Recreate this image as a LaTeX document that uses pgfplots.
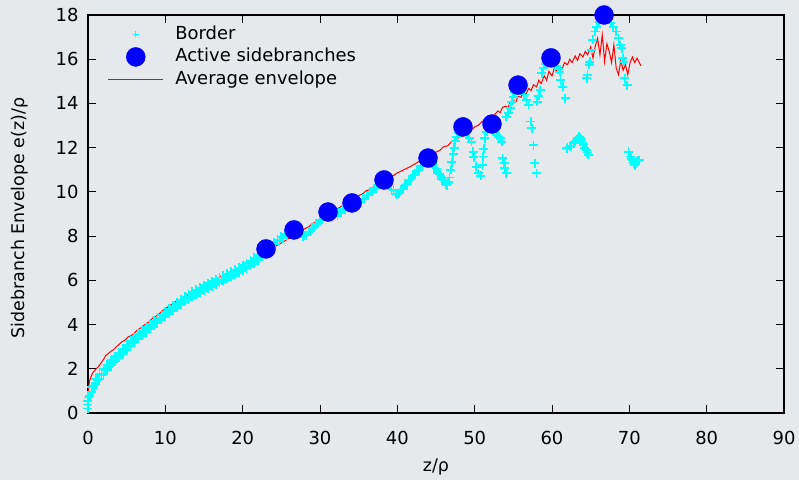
\documentclass[border=0pt]{standalone}
\usepackage{pgfplots}
\pgfplotsset{compat=1.18}
\usepackage{fontspec}
\setmainfont{DejaVu Sans}
\definecolor{bgc}{RGB}{229,233,236}
\definecolor{cy}{RGB}{0,255,255}
\definecolor{bl}{RGB}{0,0,255}
\definecolor{rd}{RGB}{255,0,0}
\begin{document}
\begin{tikzpicture}
\fill[bgc] (-88bp,-67bp) rectangle (711bp,413bp);
\begin{axis}[
  scale only axis, width=696bp, height=398bp,
  xmin=0, xmax=90, ymin=0, ymax=18,
  xtick={0,10,...,90}, ytick={0,2,...,18},
  tick align=inside, major tick length=8bp,
  axis line style={black, line width=1.1bp},
  tick style={black, line width=0.9bp},
  clip=false,
  /pgf/number format/assume math mode=true,
  tick label style={font=\fontsize{18}{21}\selectfont},
  xticklabel style={yshift=-15bp},
  yticklabel style={xshift=-6bp},
  xlabel={z/ρ}, ylabel={Sidebranch Envelope e(z)/ρ},
  label style={font=\fontsize{17.5}{21}\selectfont},
  xlabel style={at={(axis description cs:0.5,-0.1357)}, anchor=center},
  ylabel style={at={(axis description cs:-0.0977,0.49)}, anchor=center, rotate=0},
  legend style={draw=none, fill=none, at={(axis description cs:0.028,0.98)}, anchor=north west,
    font=\fontsize{18}{21}\selectfont, row sep=0bp, column sep=9bp, inner sep=0bp,
    nodes={inner sep=2.5bp, text height=13.5bp, text depth=4bp}},
  legend cell align=left,
  legend image code/.code={\draw[mark repeat=2,mark phase=2,#1] plot coordinates {(0bp,0bp) (27.5bp,0bp) (55bp,0bp)};},
]
\addplot[only marks, mark=+, color=cy, mark size=4.5bp, line width=1.8bp,
  legend image post style={mark size=3bp, line width=0.9bp}] table {
x y
0 0.2
0 0.55
0.05 0.7
0 0.38
0.25 0.77
0.5 1.18
0.75 1.22
1.0 1.53
1.25 1.50
1.5 1.78
1.75 1.72
2.0 1.98
2.25 1.92
2.5 2.18
2.75 2.12
3.0 2.38
3.25 2.31
3.5 2.56
3.75 2.48
4.0 2.73
4.25 2.66
4.5 2.91
4.75 2.83
5.0 3.08
5.25 3.01
5.5 3.26
5.75 3.18
6.0 3.43
6.25 3.35
6.5 3.58
6.75 3.50
7.0 3.73
7.25 3.65
7.5 3.88
7.75 3.80
8.0 4.03
8.25 3.94
8.5 4.17
8.75 4.07
9.0 4.30
9.25 4.21
9.5 4.44
9.75 4.35
10.0 4.58
10.25 4.49
10.5 4.72
10.75 4.63
11.0 4.86
11.25 4.77
11.5 5.00
11.75 4.90
12.0 5.13
12.25 5.03
12.5 5.26
12.75 5.16
13.0 5.38
13.25 5.27
13.5 5.48
13.75 5.37
14.0 5.58
14.25 5.47
14.5 5.68
14.75 5.57
15.0 5.78
15.25 5.67
15.5 5.87
15.75 5.76
16.0 5.96
16.25 5.84
16.5 6.05
16.75 5.93
17.0 6.13
17.25 6.01
17.5 6.22
17.75 6.10
18.0 6.30
18.25 6.19
18.5 6.39
18.75 6.28
19.0 6.48
19.25 6.37
19.5 6.58
19.75 6.47
20.0 6.68
20.25 6.57
20.5 6.78
20.75 6.67
21.0 6.88
21.25 6.78
21.5 7.01
21.75 6.91
22.0 7.13
22.25 7.06
22.5 7.31
22.75 7.23
23.0 7.48
0.5 0.95
1.0 1.30
1.5 1.55
2.0 1.75
2.5 1.95
3.0 2.15
3.5 2.33
4.0 2.50
4.5 2.68
5.0 2.85
5.5 3.03
6.0 3.20
6.5 3.35
7.0 3.50
7.5 3.65
8.0 3.80
8.5 3.94
9.0 4.07
9.5 4.21
10.0 4.35
10.5 4.49
11.0 4.63
11.5 4.77
12.0 4.90
12.5 5.03
13.0 5.15
13.5 5.25
14.0 5.35
14.5 5.45
15.0 5.55
15.5 5.64
16.0 5.73
16.5 5.82
17.0 5.90
17.5 5.99
18.0 6.07
18.5 6.16
19.0 6.25
19.5 6.35
20.0 6.45
20.5 6.55
21.0 6.65
21.5 6.78
22.0 6.90
22.5 7.08
23.25 7.42
23.5 7.60
23.75 7.54
24.0 7.72
24.25 7.66
24.5 7.84
24.75 7.78
25.0 7.96
25.25 7.90
25.5 8.08
25.75 8.02
26.0 8.20
26.25 8.14
26.5 8.30
26.75 8.24
27.0 8.24
27.25 8.10
27.5 8.12
27.75 7.99
28.0 8.04
28.25 8.03
28.5 8.20
28.75 8.21
29.0 8.38
29.25 8.39
29.5 8.56
29.75 8.57
30.0 8.74
30.25 8.75
30.5 8.92
30.75 8.93
31.0 9.10
31.25 9.01
31.5 9.06
31.75 8.95
32.0 9.01
32.25 8.92
32.5 9.08
32.75 9.07
33.0 9.22
33.25 9.21
33.5 9.36
33.75 9.35
34.0 9.50
34.25 9.46
34.5 9.54
34.75 9.47
35.0 9.57
35.25 9.52
35.5 9.68
35.75 9.68
36.0 9.84
36.25 9.84
36.5 10.00
36.75 10.00
37.0 10.16
37.25 10.16
37.5 10.32
37.75 10.32
38.0 10.48
38.25 10.48
38.5 10.49
38.75 10.31
39.0 10.29
39.25 10.11
39.5 10.09
39.75 9.91
40.0 9.90
40.25 9.93
40.5 10.11
40.75 10.14
41.0 10.32
41.25 10.35
41.5 10.53
41.75 10.56
42.0 10.74
42.25 10.77
42.5 10.95
42.75 10.98
43.0 11.16
43.25 11.19
43.5 11.37
43.75 11.40
44.0 11.56
44.25 11.36
44.5 11.31
44.75 11.10
45.0 11.06
45.25 10.85
45.5 10.80
45.75 10.59
46.0 10.54
46.25 10.34
46.4 10.30
46.6 10.45
46.75 10.65
46.9 11.00
47.05 11.35
47.2 11.70
47.35 12.00
47.5 12.30
47.7 12.50
47.9 12.65
48.1 12.78
48.3 12.88
48.5 12.94
48.75 12.85
49.0 12.70
49.3 12.45
49.6 12.27
49.83 11.82
49.9 11.56
50.2 11.14
50.5 10.84
50.8 10.72
51.0 11.20
51.1 11.60
51.2 11.95
51.3 12.42
51.55 12.72
51.8 12.90
52.0 13.00
52.25 13.07
52.5 12.95
52.85 12.57
53.1 12.50
53.3 12.42
53.5 12.27
53.6 11.52
53.8 11.29
53.9 11.07
54.1 10.84
54.1 13.40
54.35 13.55
54.6 13.78
54.8 14.08
55.0 14.30
55.2 14.50
55.4 14.70
55.6 14.83
55.85 14.75
56.1 14.60
56.4 14.40
56.7 14.16
56.95 13.93
57.25 13.18
57.4 12.88
57.6 12.12
57.8 11.29
58.0 10.84
58.1 14.08
58.3 14.35
58.45 14.60
58.7 15.36
58.9 15.60
59.1 15.80
59.4 15.95
59.65 16.03
59.87 16.06
60.1 16.00
60.35 15.90
60.6 15.70
60.8 15.55
61.0 15.44
61.1 15.06
61.4 14.76
61.7 14.23
61.9 11.97
62.0 12.00
62.3 12.05
62.5 12.10
62.8 12.20
63.0 12.28
63.2 12.35
63.35 12.42
63.5 12.50
63.65 12.45
63.8 12.35
63.95 12.20
64.05 12.12
64.2 12.00
64.4 11.90
64.55 11.78
64.7 11.67
64.5 15.14
64.6 15.29
64.8 15.74
64.9 15.89
65.1 16.40
65.3 16.87
65.6 17.25
65.8 17.47
66.1 17.70
66.4 17.90
66.7 18.00
67.0 17.95
67.3 17.80
67.6 17.65
67.9 17.47
68.3 17.25
68.6 16.95
68.8 16.64
69.0 16.50
69.15 16.04
69.3 15.89
69.4 15.14
69.7 14.83
69.9 11.82
70.1 11.60
70.25 11.50
70.4 11.44
70.55 11.30
70.7 11.20
70.85 11.30
70.95 11.37
71.1 11.40
71.25 11.44
};
\addlegendentry{Border}
\addplot[only marks, mark=*, color=bl, mark size=9.5bp] table {
x y
23.02 7.42
26.64 8.28
31.04 9.09
34.14 9.50
38.28 10.54
43.97 11.53
48.49 12.94
52.24 13.07
55.61 14.83
59.87 16.06
66.73 18.00
};
\addlegendentry{Active sidebranches}
\addplot[color=rd, line width=1bp, mark=none, legend image post style={draw=rd, line width=1.2bp}] table {
x y
0 0.85
0.1 1.2
0.2 1.45
0.4 1.65
0.6 1.8
0.8 1.9
1.0 1.98
1.3 2.08
1.6 2.22
2.0 2.42
2.3 2.6
2.6 2.68
3.0 2.8
3.3 2.86
3.6 2.97
4.0 3.1
4.4 3.22
4.8 3.3
5.2 3.44
5.6 3.5
6.0 3.62
6.4 3.76
6.8 3.84
7.2 3.96
7.6 4.06
8.0 4.15
8.4 4.31
8.8 4.38
9.2 4.48
9.6 4.62
10.0 4.72
10.5 4.84
11.0 4.95
11.5 5.09
12.0 5.14
12.5 5.26
13.0 5.35
13.5 5.46
14.0 5.54
14.5 5.63
15.0 5.76
15.5 5.84
16.0 5.96
16.5 6.04
17.0 6.13
17.5 6.21
18.0 6.31
18.5 6.39
19.0 6.5
19.5 6.57
20.0 6.68
20.5 6.77
21.0 6.86
21.5 6.94
22.0 7.06
22.5 7.17
23.0 7.29
23.5 7.37
24.0 7.49
24.5 7.59
25.0 7.69
25.5 7.79
26.0 7.91
26.5 7.99
27.0 8.13
27.5 8.19
28.0 8.33
28.5 8.41
29.0 8.56
29.5 8.64
30.0 8.79
30.5 8.84
31.0 8.99
31.5 9.04
32.0 9.19
32.5 9.29
33.0 9.39
33.5 9.49
34.0 9.61
34.5 9.69
35.0 9.83
35.5 9.91
36.0 10.06
36.5 10.11
37.0 10.26
37.5 10.34
38.0 10.46
38.5 10.54
39.0 10.66
39.5 10.74
40.0 10.86
40.5 10.94
41.0 11.03
41.5 11.11
42.0 11.21
42.5 11.31
43.0 11.42
43.5 11.44
44.0 11.6
44.5 11.66
45.0 11.8
45.5 11.88
46.0 12.05
46.5 12.08
47.0 12.27
47.5 12.3
48.0 12.48
48.5 12.52
49.0 12.68
49.5 12.75
50.0 12.94
50.5 13.02
51.0 13.2
51.5 13.22
52.0 13.42
52.5 13.46
53.0 13.66
53.3 13.58
53.6 13.82
54.0 13.88
54.3 13.8
54.6 14.05
55.0 14.15
55.3 14.05
55.6 14.32
56.0 14.28
56.3 14.5
56.6 14.42
57.0 14.68
57.3 14.58
57.6 14.85
58.0 14.75
58.3 15.05
58.6 14.9
59.0 15.25
59.3 15.05
59.6 15.45
60.0 15.25
60.3 15.6
60.6 15.45
61.0 15.7
61.3 15.55
61.6 15.85
62.0 15.75
62.3 16.0
62.6 15.85
63.0 16.15
63.3 15.95
63.6 16.25
64.0 16.1
64.3 16.35
64.6 16.2
65.0 16.55
65.3 16.05
65.6 16.6
65.9 16.95
66.2 16.2
66.5 17.1
66.8 15.9
67.1 16.7
67.4 16.35
67.7 15.85
68.0 16.65
68.3 15.6
68.6 15.3
68.9 15.95
69.2 15.5
69.5 15.75
69.8 15.3
70.1 15.85
70.4 16.1
70.7 15.85
71.0 16.05
71.5 15.7
};
\addlegendentry{Average envelope}
\end{axis}
\pgfresetboundingbox
\path (-88bp,-67bp) rectangle (711bp,413bp);
\end{tikzpicture}
\end{document}
